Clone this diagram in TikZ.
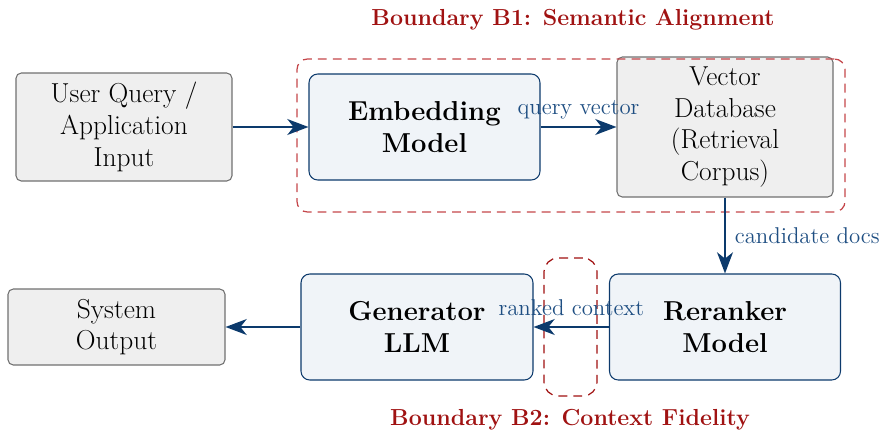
\documentclass[tikz,border=0pt]{standalone}
\usetikzlibrary{arrows.meta}
\definecolor{flowblue}{RGB}{12,58,108}
\definecolor{labelblue}{RGB}{30,78,130}
\definecolor{boxblue}{RGB}{240,244,248}
\definecolor{boxgray}{RGB}{239,239,239}
\definecolor{edgegray}{RGB}{112,112,112}
\definecolor{bounda}{RGB}{196,70,74}
\definecolor{boundb}{RGB}{160,16,16}
\definecolor{titlered}{RGB}{160,18,18}
% one drawing unit of the layout grid
\newcommand\gu{0.02cm}
\tikzset{
  stagebox/.style={draw=flowblue, fill=boxblue, line width=0.6pt, rounded corners=5pt,
    align=center, font=\fontsize{15.6}{18}\selectfont\bfseries, inner sep=0pt},
  iobox/.style={draw=edgegray, fill=boxgray, line width=0.6pt, rounded corners=3pt,
    align=center, font=\fontsize{15.6}{18}\selectfont, inner sep=0pt},
  flow/.style={draw=flowblue, line width=1.2pt, -{Stealth[length=12pt,width=9pt,inset=3.5pt]}},
  flowlabel/.style={text=labelblue, font=\fontsize{13}{15}\selectfont, inner sep=1pt},
  boundary/.style={dashed, dash pattern=on 5pt off 3.5pt, line width=0.7pt, rounded corners=6pt, inner sep=0pt},
  boundtitle/.style={text=titlered, font=\fontsize{13.2}{15}\selectfont\bfseries, inner sep=0pt},
  sz/.style 2 args={minimum width=#1*\gu, minimum height=#2*\gu}
}
\begin{document}
\begin{tikzpicture}[x=0.02cm, y=-0.02cm]
\useasboundingbox (0,0) rectangle (883,433);

% upper row
\node[iobox, sz={216}{108}] (query) at (124,127)
  {User Query /\\Application\\Input};
\node[stagebox, sz={231}{106}] (embed) at (424.5,127)
  {Embedding\\Model};
\node[iobox, sz={216}{140}] (vecdb) at (725,127)
  {Vector\\Database\\(Retrieval\\Corpus)};

% lower row
\node[stagebox, sz={231}{106}] (rerank) at (725,327)
  {Reranker\\Model};
\node[stagebox, sz={232}{106}] (gen) at (417,327)
  {Generator\\LLM};
\node[iobox, sz={217}{76}] (out) at (116.5,327)
  {System\\Output};

% trust boundaries
\node[boundary, draw=bounda, sz={548}{153}] (bone) at (571,135.5) {};
\node[boundary, draw=boundb, sz={53}{138}, rounded corners=8pt] (btwo) at (570.5,327) {};
\node[boundtitle] (tone) at (573,20) {Boundary B1: Semantic Alignment};
\node[boundtitle] (ttwo) at (570,420) {Boundary B2: Context Fidelity};

% data flow
\draw[flow] (query) -- (embed);
\draw[flow] (embed) -- node[flowlabel, above=3pt] {query vector} (vecdb);
\draw[flow] (vecdb) -- node[flowlabel, right=4pt] {candidate docs} (rerank);
\draw[flow] (rerank) -- node[flowlabel, above=5pt] {ranked context} (gen);
\draw[flow] (gen) -- (out);
\end{tikzpicture}
\end{document}
